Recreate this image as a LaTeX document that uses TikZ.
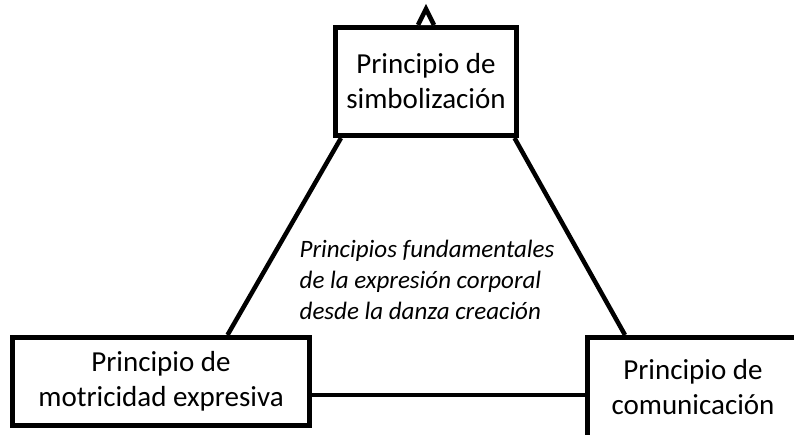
\documentclass[tikz,border=0pt]{standalone}
\usepackage{fontspec}
\setmainfont{Carlito}
\usetikzlibrary{positioning}

\begin{document}
\begin{tikzpicture}[x=1pt,y=-1pt]
	% Define node styles
	\tikzstyle{principio} = [rectangle, draw, line width=5pt, fill=white, align=center, font=\fontsize{29}{35}\selectfont, inner sep=0pt];
	\tikzstyle{enlace} = [line width=4.5pt];
	\useasboundingbox (0,0) rectangle (794,434);
	
	% Central text
	\node[align=left, font=\fontsize{25}{31}\selectfont\itshape] (centro) at (427,280) {Principios fundamentales\\de la expresión corporal\\desde la danza creación};
	
	% Boxes
	\node[principio, minimum width=181pt, minimum height=108pt] (simb) at (426,81.5) {Principio de\\simbolización};
	\node[principio, minimum width=297pt, minimum height=88pt] (motr) at (161,381.5) {Principio de\\motricidad expresiva};
	\node[principio, minimum width=211pt, minimum height=100pt] (comu) at (693,387.5) {Principio de\\comunicación};
	
	% Small triangle on top
	\draw[enlace, fill=white] ([xshift=-8pt]simb.north) -- ([yshift=16pt]simb.north) -- ([xshift=8pt]simb.north);
	
	% Connections
	\draw[enlace] ([xshift=8pt]simb.south west) -- ([xshift=217.5pt]motr.north west);
	\draw[enlace] ([xshift=-4.5pt]simb.south east) -- ([xshift=40pt]comu.north west);
	\draw[enlace] ([yshift=-13.5pt]motr.east) coordinate (m) -- (m -| comu.west);
\end{tikzpicture}
\end{document}
